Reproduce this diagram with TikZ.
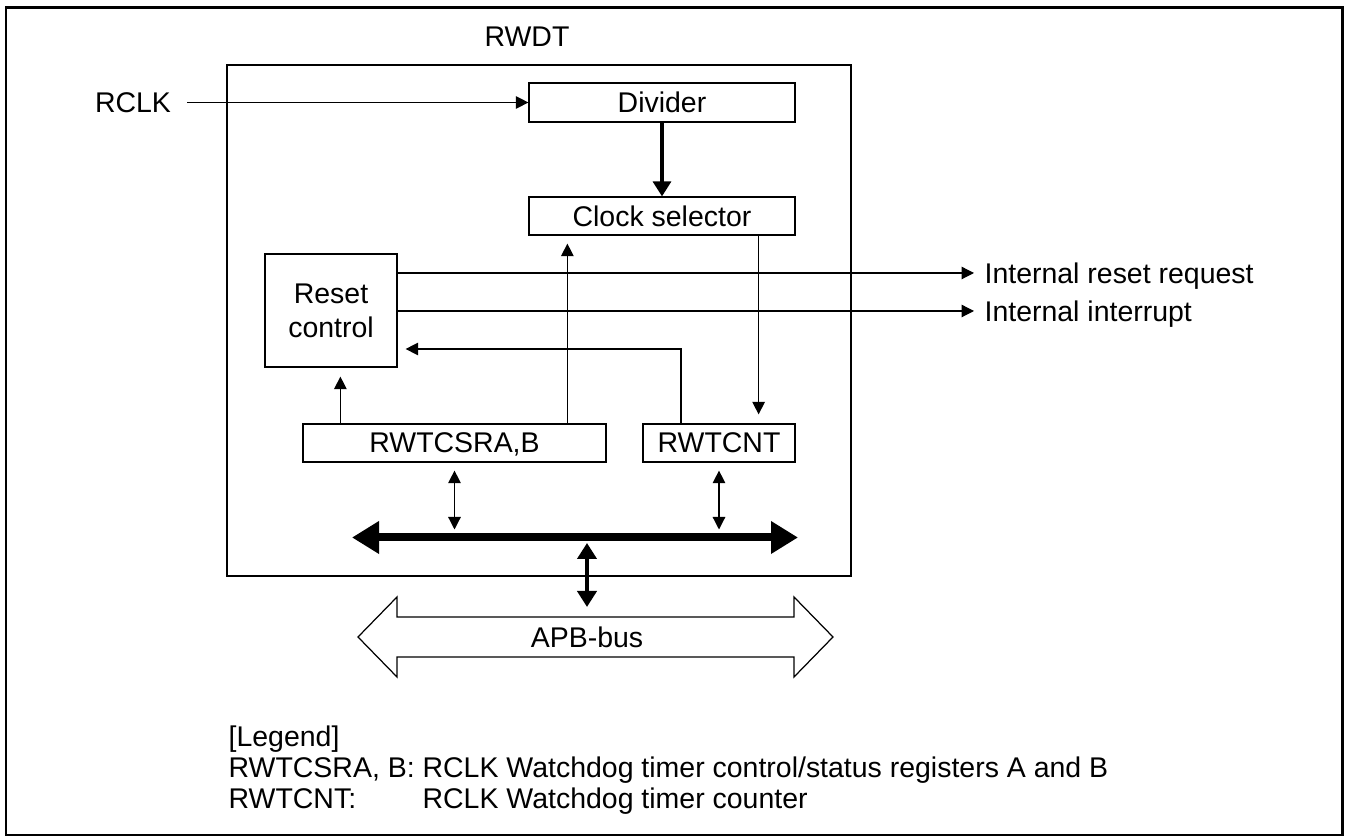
\documentclass[tikz,border=0pt]{standalone}
\usepackage{fontspec}
\setmainfont{Liberation Sans}
\usetikzlibrary{arrows.meta}
\begin{document}
\begin{tikzpicture}[x=1cm,y=1cm,font=\fontsize{16.2}{17.6}\selectfont,
    line width=0.7pt,>={Triangle[length=0.25cm,width=0.25cm]},
    blk/.style={draw,line width=0.7pt,inner sep=0pt,align=center,text depth=0pt},
    sig/.style={anchor=west,inner xsep=0.2cm,inner ysep=0pt,text depth=0pt},
    thickarr/.style={line width=1.9pt,-{Triangle[length=0.3cm,width=0.36cm]}},
    midbus/.style={line width=2.8pt,
      {Triangle[length=0.32cm,width=0.38cm]}-{Triangle[length=0.32cm,width=0.38cm]}},
    busline/.style={line width=0.16cm,
      {Triangle[length=0.54cm,width=0.62cm]}-{Triangle[length=0.54cm,width=0.62cm]}}]
  \useasboundingbox (0,0) rectangle (26.92,16.8);
  \draw[line width=1.3pt] (0.12,0.1) rectangle (26.85,16.65);

  % module frame
  \node[draw,line width=1.5pt,minimum width=12.48cm,minimum height=10.22cm] (rwdt) at (10.78,10.39) {};
  \node[text depth=0pt] (rwdtlbl) at (10.54,16.06) {RWDT};

  \node[text depth=0pt] (rclk) at (2.66,14.75) {RCLK};
  \node[blk,minimum width=5.32cm,minimum height=0.78cm] (div) at (13.24,14.75) {Divider};
  \node[blk,minimum width=5.32cm,minimum height=0.76cm] (clk) at (13.24,12.48) {Clock selector};
  \node[blk,minimum width=2.64cm,minimum height=2.26cm] (rst) at (6.62,10.59) {Reset\\[1.7pt]control};
  \node[blk,minimum width=6.06cm,minimum height=0.76cm] (csr) at (9.09,7.94) {RWTCSRA,B};
  \node[blk,minimum width=3.04cm,minimum height=0.76cm] (cnt) at (14.38,7.94) {RWTCNT};
  \node[sig] (req) at (19.48,11.34) {Internal reset request};
  \node[sig] (irq) at (19.48,10.58) {Internal interrupt};

  \draw[->] ([xshift=0.2cm]rclk.east) -- (div.west);
  \draw[thickarr] (div.south) -- (clk.north);
  \draw[->,shorten >=0.16cm] ([xshift=5.3cm]csr.north west) -- ([xshift=5.3cm]csr.north west |- clk.south);
  \draw[->,shorten >=0.18cm] ([xshift=0.76cm]csr.north west) -- ([xshift=0.76cm]csr.north west |- rst.south);
  \draw[->,shorten >=0.18cm] ([xshift=-0.74cm]clk.south east) -- ([xshift=-0.74cm]clk.south east |- cnt.north);
  \draw[->,shorten >=0.16cm] ([xshift=-0.76cm]cnt.north) |- ([yshift=-0.77cm]rst.east);
  \draw[->] (rst.east |- req) -- (req.west);
  \draw[->] (rst.east |- irq) -- (irq.west);

  % internal bus
  \coordinate (busL) at (7.04,6.05);
  \coordinate (busR) at (15.96,6.05);
  \coordinate (busM) at (11.74,6.05);
  \draw[busline] (busL) -- (busR);
  \draw[<->,shorten <=0.16cm] (csr.south) -- ([yshift=0.16cm]csr.south |- busL);
  \draw[<->,shorten <=0.16cm] (cnt.south) -- ([yshift=0.16cm]cnt.south |- busL);

  % APB bus
  \node[text depth=0pt] (apb) at (11.74,4.06) {APB-bus};
  \draw (7.16,4.06) -- (7.94,4.86) -- (7.94,4.46) -- (15.88,4.46) -- (15.88,4.86) -- (16.66,4.06)
    -- (15.88,3.26) -- (15.88,3.66) -- (7.94,3.66) -- (7.94,3.26) -- cycle;
  \draw[midbus] ([yshift=-0.11cm]busM) -- ([yshift=0.6cm]apb.center);

  \node[anchor=base west,inner sep=0pt] (legend) at (4.56,1.86) {\begin{tabular}[t]{@{}l@{\ }l@{}}
    \multicolumn{2}{@{}l@{}}{[Legend]}\\
    RWTCSRA, B: & RCLK Watchdog timer control/status registers A and B\\
    RWTCNT: & RCLK Watchdog timer counter
  \end{tabular}};
\end{tikzpicture}
\end{document}
